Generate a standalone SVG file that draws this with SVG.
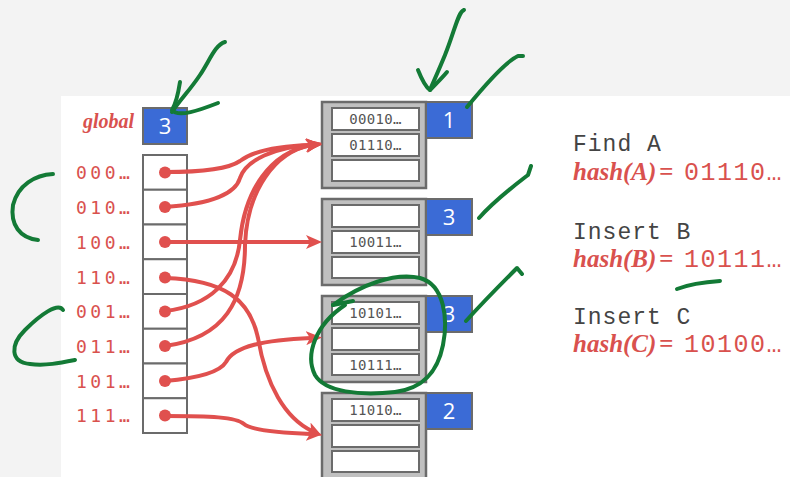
<svg xmlns="http://www.w3.org/2000/svg" width="790" height="477" viewBox="0 0 790 477">
<defs>
<style>
.cell{fill:#fff;stroke:#6b6b6b;stroke-width:2}
.bkt{fill:#c0c0c0;stroke:#6b6b6b;stroke-width:2.5}
.slot{fill:#fff;stroke:#6b6b6b;stroke-width:2}
.blue{fill:#3b6bd6;stroke:#6b6b6b;stroke-width:2}
.num{font-family:"Open Sans","Liberation Sans",sans-serif;font-size:22px;fill:#fff;text-anchor:middle}
.lbl{font-family:"DejaVu Sans Mono",monospace;font-size:18px;fill:#d9514e;letter-spacing:3.5px}
.stxt{font-family:"DejaVu Sans Mono",monospace;font-size:14px;fill:#555;text-anchor:middle;letter-spacing:0.3px}
.arr{fill:none;stroke:#e0504e;stroke-width:4}
.dot{fill:#e0504e}
.grn{fill:none;stroke:#137a36;stroke-width:4;stroke-linecap:round;stroke-linejoin:round}
.op{font-family:"Liberation Mono",monospace;font-size:23px;fill:#444;letter-spacing:1px}
.hs{font-family:"Liberation Serif",serif;font-weight:bold;font-style:italic;font-size:25px;fill:#d9514e}
.hv{font-family:"Liberation Mono",monospace;font-size:25px;fill:#d9514e;letter-spacing:1.5px}
</style>
<marker id="ah" markerUnits="userSpaceOnUse" markerWidth="16" markerHeight="14" viewBox="0 0 16 14" refX="5" refY="7" orient="auto">
<path d="M0,0 L16,7 L0,14 L4,7 z" fill="#e0504e"/>
</marker>
</defs>
<rect x="0" y="0" width="790" height="477" fill="#f3f3f3"/>
<rect x="61" y="96" width="729" height="381" fill="#fff"/>

<g id="global">
<text x="134" y="128" text-anchor="end" style="font-family:'Liberation Serif',serif;font-weight:bold;font-style:italic;font-size:20px;fill:#d9514e">global</text>
<rect class="blue" x="143" y="108" width="44" height="36"/>
<text class="num" x="165" y="134">3</text>
</g>

<g id="directory">
<rect class="cell" x="143" y="155" width="44" height="34.75"/>
<rect class="cell" x="143" y="189.75" width="44" height="34.75"/>
<rect class="cell" x="143" y="224.5" width="44" height="34.75"/>
<rect class="cell" x="143" y="259.25" width="44" height="34.75"/>
<rect class="cell" x="143" y="294" width="44" height="34.75"/>
<rect class="cell" x="143" y="328.75" width="44" height="34.75"/>
<rect class="cell" x="143" y="363.5" width="44" height="34.75"/>
<rect class="cell" x="143" y="398.25" width="44" height="34.75"/>
<text class="lbl" x="76" y="179">000…</text>
<text class="lbl" x="76" y="214">010…</text>
<text class="lbl" x="76" y="249">100…</text>
<text class="lbl" x="76" y="284">110…</text>
<text class="lbl" x="76" y="318">001…</text>
<text class="lbl" x="76" y="353">011…</text>
<text class="lbl" x="76" y="388">101…</text>
<text class="lbl" x="76" y="422">111…</text>
</g>

<g id="bucket1">
<rect class="bkt" x="322" y="102" width="104" height="86"/>
<rect class="slot" x="332" y="108" width="87" height="22"/>
<rect class="slot" x="332" y="134" width="87" height="22"/>
<rect class="slot" x="332" y="160" width="87" height="21"/>
<text class="stxt" x="375.5" y="124">00010…</text>
<text class="stxt" x="375.5" y="150">01110…</text>
<rect class="blue" x="426" y="102" width="46" height="36"/>
<text class="num" x="449" y="128">1</text>
</g>
<g id="bucket2">
<rect class="bkt" x="322" y="199" width="104" height="86"/>
<rect class="slot" x="332" y="205" width="87" height="22"/>
<rect class="slot" x="332" y="231" width="87" height="22"/>
<rect class="slot" x="332" y="257" width="87" height="21"/>
<text class="stxt" x="375.5" y="247">10011…</text>
<rect class="blue" x="426" y="199" width="46" height="36"/>
<text class="num" x="449" y="225">3</text>
</g>
<g id="bucket3">
<rect class="bkt" x="322" y="296" width="104" height="86"/>
<rect class="slot" x="332" y="302" width="87" height="22"/>
<rect class="slot" x="332" y="328" width="87" height="22"/>
<rect class="slot" x="332" y="354" width="87" height="21"/>
<text class="stxt" x="375.5" y="318">10101…</text>
<text class="stxt" x="375.5" y="370">10111…</text>
<rect class="blue" x="426" y="296" width="46" height="36"/>
<text class="num" x="449" y="322">3</text>
</g>
<g id="bucket4">
<rect class="bkt" x="322" y="393" width="104" height="86"/>
<rect class="slot" x="332" y="399" width="87" height="22"/>
<rect class="slot" x="332" y="425" width="87" height="22"/>
<rect class="slot" x="332" y="451" width="87" height="21"/>
<text class="stxt" x="375.5" y="415">11010…</text>
<rect class="blue" x="426" y="393" width="46" height="36"/>
<text class="num" x="449" y="419">2</text>
</g>

<g id="connectors">
<path class="arr" marker-end="url(#ah)" d="M165,172 C205,172 230,168 240,161 C252,152 275,146 311,145"/>
<path class="arr" marker-end="url(#ah)" d="M165,207 C215,204 236,192 240,178 C246,160 275,147 311,145"/>
<path class="arr" marker-end="url(#ah)" d="M165,242 L311,242"/>
<path class="arr" marker-end="url(#ah)" d="M165,278 C225,280 250,300 258,338 C266,385 285,418 312,431"/>
<path class="arr" marker-end="url(#ah)" d="M165,311 C210,306 236,280 240,240 C245,190 270,153 311,145"/>
<path class="arr" marker-end="url(#ah)" d="M165,346 C225,338 245,300 245,245 C247,190 275,152 311,145"/>
<path class="arr" marker-end="url(#ah)" d="M165,381 C200,378 220,372 226,362 C234,346 265,340 311,338"/>
<path class="arr" marker-end="url(#ah)" d="M165,416 C210,416 236,417 244,424 C252,431 285,433 311,434"/>
<circle class="dot" cx="165" cy="172.4" r="6"/>
<circle class="dot" cx="165" cy="207" r="6"/>
<circle class="dot" cx="165" cy="242" r="6"/>
<circle class="dot" cx="165" cy="277.6" r="6"/>
<circle class="dot" cx="165" cy="311.4" r="6"/>
<circle class="dot" cx="165" cy="346" r="6"/>
<circle class="dot" cx="165" cy="381" r="6"/>
<circle class="dot" cx="165" cy="415.6" r="6"/>
</g>

<g id="ops">
<text class="op" x="573" y="151">Find A</text>
<text x="573" y="180"><tspan class="hs">hash(A)</tspan><tspan class="hs" x="659" font-size="20">=</tspan><tspan class="hv" x="684">01110…</tspan></text>
<text class="op" x="573" y="239">Insert B</text>
<text x="573" y="267"><tspan class="hs">hash(B)</tspan><tspan class="hs" x="659" font-size="20">=</tspan><tspan class="hv" x="684">10111…</tspan></text>
<text class="op" x="573" y="324">Insert C</text>
<text x="573" y="352"><tspan class="hs">hash(C)</tspan><tspan class="hs" x="659" font-size="20">=</tspan><tspan class="hv" x="684">10100…</tspan></text>
</g>

<g id="annotations">
<path class="grn" d="M225,42 C215,45 210,60 200,75 C190,90 180,100 172,112"/>
<path class="grn" d="M180,82 C178,95 175,105 172,110 C178,118 200,110 218,103"/>
<path class="grn" d="M464,10 C458,12 455,30 445,55 C438,72 432,85 430,90"/>
<path class="grn" d="M418,70 C422,80 427,88 430,90 C435,85 442,78 447,72"/>
<path class="grn" d="M467,107 C485,85 505,62 518,56 L523,56"/>
<path class="grn" d="M479,218 C495,200 515,185 528,175 L531,166"/>
<path class="grn" d="M333,305 L353,301"/>
<path class="grn" d="M333,305 C360,285 395,272 420,278 C445,285 448,320 443,345 C438,370 425,388 395,392 C360,396 325,392 315,375 C305,355 315,325 345,305"/>
<path class="grn" d="M466,321 C485,300 505,280 517,268 L522,274"/>
<path class="grn" d="M53,174 C35,175 18,185 13,205 C10,225 20,238 38,240"/>
<path class="grn" d="M63,310 C58,302 40,315 25,330 C10,345 10,362 30,364 C45,366 60,363 75,360"/>
<path class="grn" d="M677,289 C690,284 705,282 720,281"/>
</g>
</svg>
